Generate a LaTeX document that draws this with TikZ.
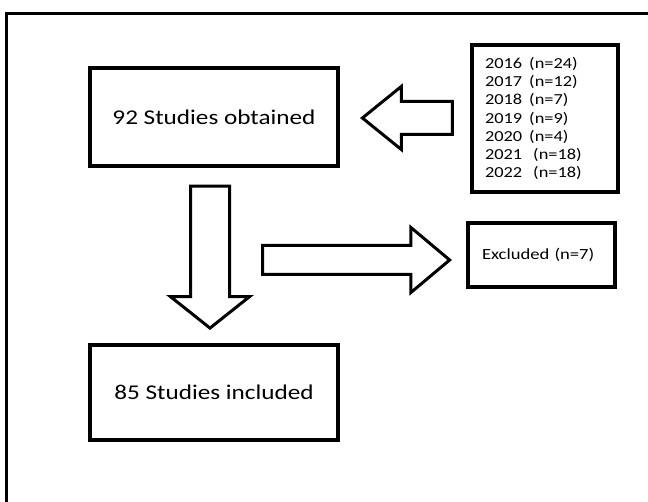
\documentclass[tikz,border=0pt]{standalone}
\usepackage{fontspec}
\setmainfont{Carlito}[FakeStretch=1.2]
\usetikzlibrary{shapes.arrows}

\begin{document}
\begin{tikzpicture}[x=1pt,y=-1pt,
  box/.style={draw=black, line width=3.5pt, rectangle, inner sep=0pt},
  blockarrow/.style={draw=black, line width=3pt, fill=white, single arrow, inner xsep=0pt, single arrow head indent=0pt}]
\useasboundingbox (0,0) rectangle (648,502);
\fill[white] (0,0) rectangle (648,502);
\draw[line width=3pt] (6.5,502) |- (648,13.5);
% boxes
\node[box, minimum width=248pt, minimum height=98pt, font=\fontsize{21}{25}\selectfont] (obtained) at (214,117) {92 Studies obtained};
\node[box, minimum width=248pt, minimum height=95pt, font=\fontsize{21}{25}\selectfont] (included) at (214,392.5) {85 Studies included};
\node[box, text width=120pt, inner xsep=13pt, minimum height=147pt, align=left, font=\fontsize{15.3}{18.3}\selectfont] (years) at (545,118.5)
  {2016\hspace{7pt}(n=24)\\2017\hspace{7pt}(n=12)\\2018\hspace{7pt}(n=7)\\2019\hspace{7pt}(n=9)\\2020\hspace{7pt}(n=4)\\2021\hspace{11pt}(n=18)\\2022\hspace{11pt}(n=18)};
\node[box, text width=119pt, inner xsep=14pt, minimum height=64pt, align=left, font=\fontsize{15.5}{18}\selectfont] (excluded) at (541.5,255) {Excluded (n=7)};
% arrows
\node[blockarrow, shape border rotate=180, minimum height=90pt, inner ysep=15pt, single arrow head extend=15pt, single arrow tip angle=78, anchor=tip] (yeararrow) at (360,118) {};
\node[blockarrow, shape border rotate=270, minimum height=142pt, inner xsep=18pt, inner ysep=0pt, single arrow head extend=20pt, single arrow tip angle=103, anchor=tip] (downarrow) at (210,330) {};
\node[blockarrow, minimum height=187pt, inner ysep=13pt, single arrow head extend=18pt, single arrow tip angle=80, anchor=tip] (exclarrow) at (452,260) {};
\end{tikzpicture}
\end{document}
